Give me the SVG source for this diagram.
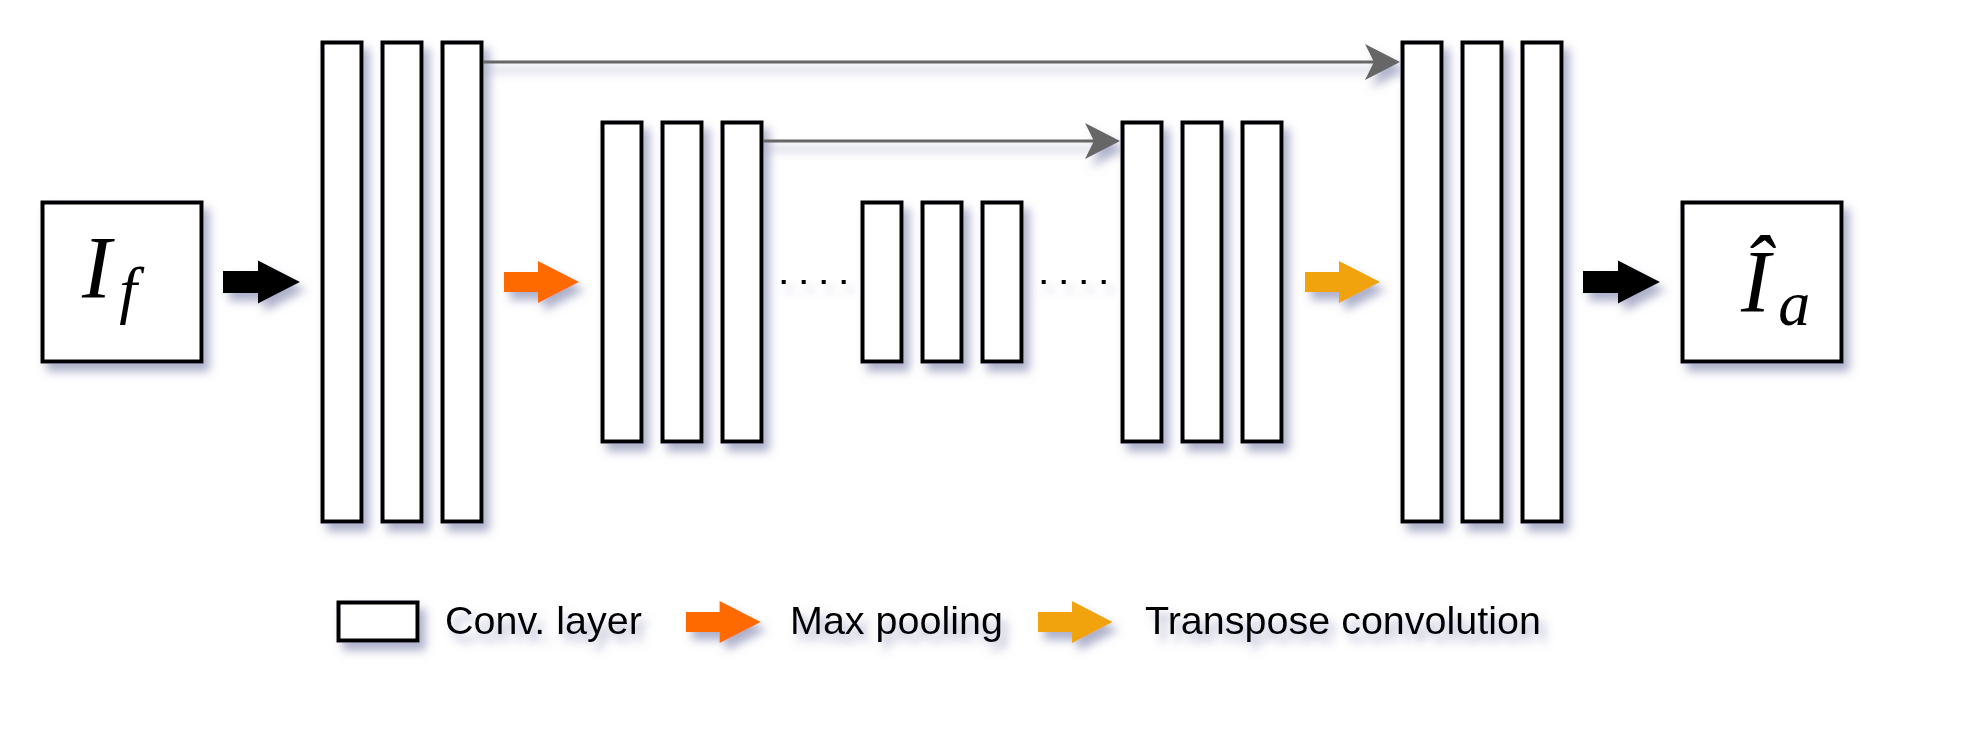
<svg xmlns="http://www.w3.org/2000/svg" width="1968" height="732" viewBox="0 0 1968 732">
<defs>
<filter id="sh" filterUnits="userSpaceOnUse" x="0" y="0" width="1968" height="732">
<feGaussianBlur in="SourceAlpha" stdDeviation="5"/>
<feOffset dx="6" dy="8" result="b"/>
<feFlood flood-color="#6b70a0" flood-opacity="0.55"/>
<feComposite in2="b" operator="in"/>
<feMerge><feMergeNode/><feMergeNode in="SourceGraphic"/></feMerge>
</filter>
<marker id="gh" markerUnits="userSpaceOnUse" markerWidth="40" markerHeight="40" refX="25" refY="18" orient="auto" overflow="visible">
<path d="M0,0 L35,18 L0,36 L9,18 Z" fill="#666666"/>
</marker>
<style>
.layer{fill:#fff;stroke:#000;stroke-width:4}
.skip{stroke:#666666;stroke-width:3;fill:none}
.dots{stroke:#000;stroke-width:4;stroke-dasharray:4 16;fill:none}
.blk{fill:#000}
.org{fill:#ff6a00}
.amb{fill:#f0a30a}
.lg{font-family:"Liberation Sans",Arial,sans-serif;font-size:39.5px;fill:#000}
.math{font-family:"Liberation Serif","Times New Roman",serif;font-style:italic;fill:#000}
</style>
</defs>
<rect width="1968" height="732" fill="#fff"/>
<g filter="url(#sh)">
<g id="input">
<rect class="layer" x="42.5" y="202.5" width="159" height="159"/>
<text class="math" x="82" y="297" font-size="88">I<tspan font-size="64" dx="8" dy="14">f</tspan></text>
</g>
<g id="enc1">
<rect class="layer" x="322.5" y="42.5" width="39" height="479"/>
<rect class="layer" x="382.5" y="42.5" width="39" height="479"/>
<rect class="layer" x="442.5" y="42.5" width="39" height="479"/>
</g>
<g id="enc2">
<rect class="layer" x="602.5" y="122.5" width="39" height="319"/>
<rect class="layer" x="662.5" y="122.5" width="39" height="319"/>
<rect class="layer" x="722.5" y="122.5" width="39" height="319"/>
</g>
<g id="bottleneck">
<rect class="layer" x="862.5" y="202.5" width="39" height="159"/>
<rect class="layer" x="922.5" y="202.5" width="39" height="159"/>
<rect class="layer" x="982.5" y="202.5" width="39" height="159"/>
</g>
<g id="dec2">
<rect class="layer" x="1122.5" y="122.5" width="39" height="319"/>
<rect class="layer" x="1182.5" y="122.5" width="39" height="319"/>
<rect class="layer" x="1242.5" y="122.5" width="39" height="319"/>
</g>
<g id="dec1">
<rect class="layer" x="1402.5" y="42.5" width="39" height="479"/>
<rect class="layer" x="1462.5" y="42.5" width="39" height="479"/>
<rect class="layer" x="1522.5" y="42.5" width="39" height="479"/>
</g>
<g id="output">
<rect class="layer" x="1682.5" y="202.5" width="159" height="159"/>
<text class="math" x="1741" y="311" font-size="88">Î<tspan font-size="64" dx="8" dy="14">a</tspan></text>
</g>
<g id="connectors">
<line class="skip" x1="483.5" y1="62" x2="1390" y2="62" marker-end="url(#gh)"/>
<line class="skip" x1="763.5" y1="141" x2="1110" y2="141" marker-end="url(#gh)"/>
<line class="dots" x1="781.7" y1="282" x2="846" y2="282"/>
<line class="dots" x1="1041.7" y1="282" x2="1106" y2="282"/>
<polygon class="blk" points="223,271 258,271 258,260.5 300,282 258,303.5 258,293 223,293"/>
<polygon class="org" points="504,272 538,272 538,261 579,282 538,303 538,292 504,292"/>
<polygon class="amb" points="1305,272 1339,272 1339,261 1380,282 1339,303 1339,292 1305,292"/>
<polygon class="blk" points="1583,271 1618,271 1618,260.5 1660,282 1618,303.5 1618,293 1583,293"/>
</g>
<g id="legend">
<rect class="layer" x="338.5" y="602.5" width="79" height="38"/>
<text class="lg" x="445" y="634">Conv. layer</text>
<polygon class="org" points="686,612 719.6,612 719.6,601 760.7,622 719.6,643 719.6,632 686,632"/>
<text class="lg" x="790" y="634">Max pooling</text>
<polygon class="amb" points="1038,612 1072,612 1072,601 1112.5,622 1072,643 1072,632 1038,632"/>
<text class="lg" x="1145" y="634">Transpose convolution</text>
</g>
</g>
</svg>
